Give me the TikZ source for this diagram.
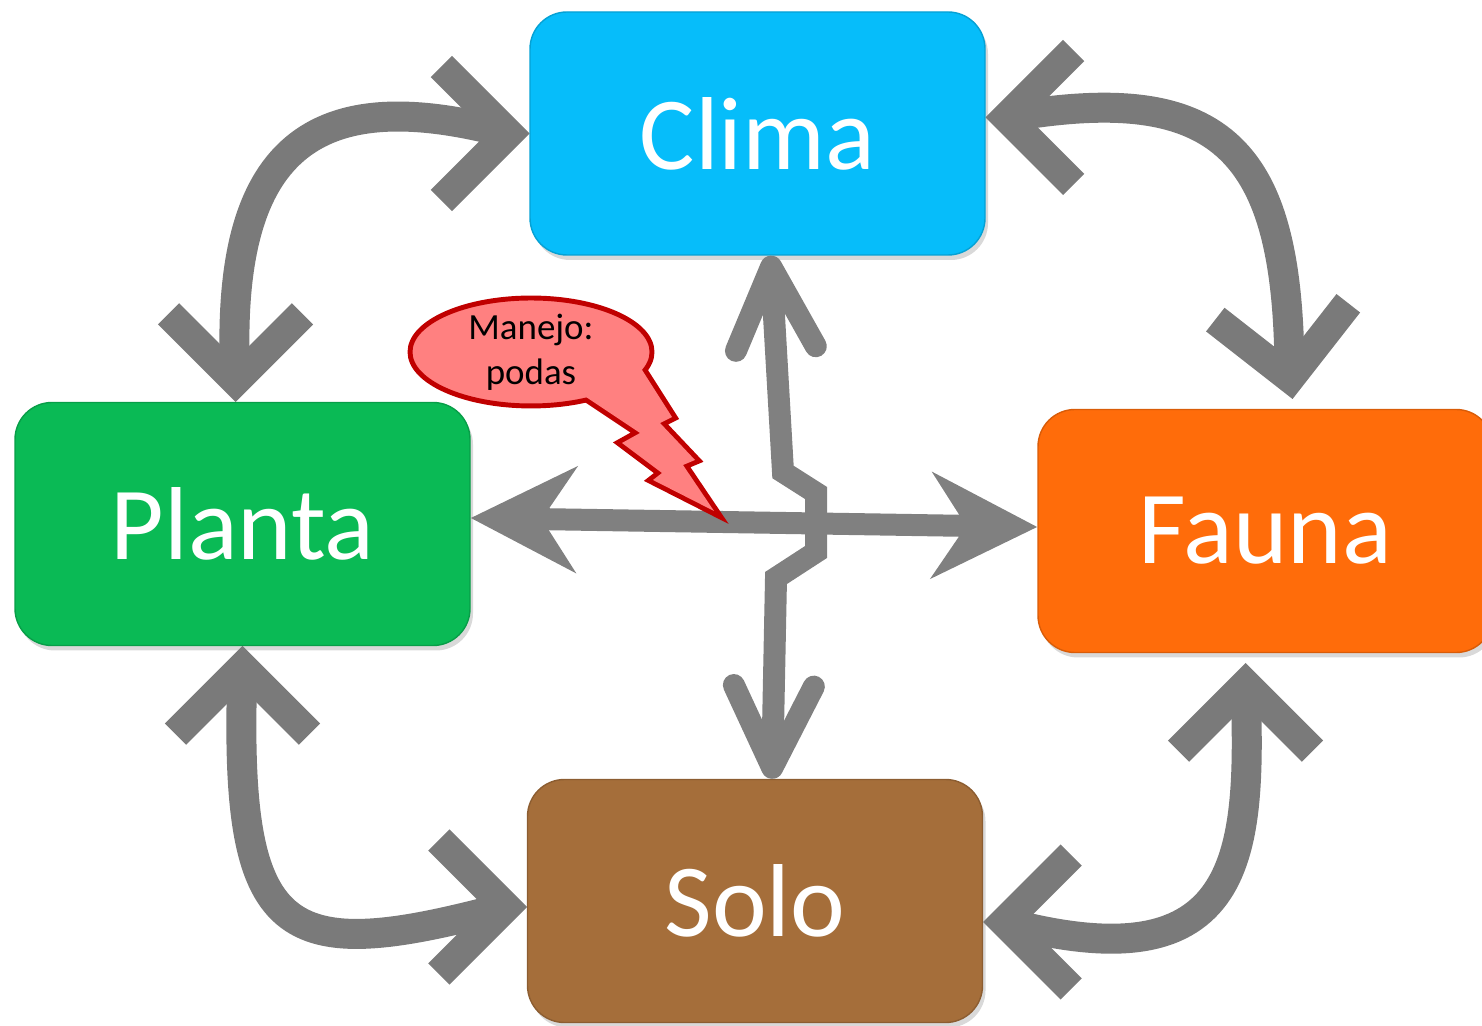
\documentclass[tikz,border=0pt]{standalone}
\usepackage{fontspec}
\setmainfont{Carlito}
\usetikzlibrary{arrows.meta, shapes.geometric, shadows}

\definecolor{climablue}{RGB}{6,189,250}
\definecolor{plantagreen}{RGB}{10,186,85}
\definecolor{faunaorange}{RGB}{255,108,10}
\definecolor{solobrown}{RGB}{165,110,58}
\definecolor{cyclegray}{RGB}{122,122,122}
\definecolor{crossgray}{RGB}{128,128,128}
\definecolor{calloutfill}{RGB}{255,128,128}
\definecolor{calloutrim}{RGB}{192,0,0}

\newcommand{\chevron}[2]{%
  \draw[cycarrow, shift={#1}, rotate=#2] (-0.88,0.67) -- (-0.21,0) -- (-0.88,-0.67);}

\begin{document}
\begin{tikzpicture}[scale=1.0,
    box/.style={rectangle, rounded corners=0.37cm, minimum width=4.55cm,
      minimum height=2.43cm, text=white, line width=0.4pt,
      font=\fontsize{29.5}{35}\selectfont,
      drop shadow={shadow xshift=0.03cm, shadow yshift=-0.05cm, opacity=0.3}},
    cycarrow/.style={draw=cyclegray, line width=0.3cm, line join=miter, line cap=butt},
    hbar/.style={draw=crossgray, line width=0.22cm,
      arrows={Stealth[length=1.05cm, width=1.05cm, inset=0.34cm]-Stealth[length=1.05cm, width=1.05cm, inset=0.34cm]}},
    vbar/.style={draw=crossgray, line width=0.22cm, line join=miter,
      arrows={Straight Barb[length=0.82cm, width=0.8cm, round]-Straight Barb[length=0.82cm, width=0.8cm, round]}},
    tailrim/.style={draw=calloutrim, line width=2.8pt, line join=miter}]

    \useasboundingbox (0,0) rectangle (14.82,10.25);

    \node[box, fill=climablue, draw=climablue!85!black] (clima) at (7.575,8.915) {Clima};
    \node[box, fill=plantagreen, draw=plantagreen!85!black] (planta) at (2.425,5.01) {Planta};
    \node[box, fill=faunaorange, draw=faunaorange!85!black] (fauna) at (12.655,4.94) {Fauna};
    \node[box, fill=solobrown, draw=solobrown!85!black] (solo) at (7.55,1.24) {Solo};

    \draw[cycarrow] ([xshift=-0.21cm]clima.west) .. controls +(165:2.0) and +(93:2.37)
      .. ([xshift=-0.07cm, yshift=0.21cm]planta.north);
    \chevron{(clima.west)}{0}
    \chevron{([xshift=-0.07cm]planta.north)}{-90}

    \draw[cycarrow] ([xshift=0.21cm, yshift=0.16cm]clima.east) .. controls +(10:2.23) and +(90:2.25)
      .. ([xshift=0.24cm, yshift=0.31cm]fauna.north);
    \chevron{([yshift=0.16cm]clima.east)}{180}
    \chevron{([xshift=0.27cm, yshift=0.1cm]fauna.north)}{-83}

    \draw[cycarrow] ([yshift=-0.21cm]planta.south) .. controls +(-92:2.75) and +(195:2.33)
      .. ([xshift=-0.21cm, yshift=-0.06cm]solo.west);
    \chevron{(planta.south)}{90}
    \chevron{([yshift=-0.06cm]solo.west)}{0}

    \draw[cycarrow] ([xshift=-0.2cm, yshift=-0.31cm]fauna.south) .. controls +(-88:1.7) and +(-15:2.5)
      .. ([xshift=0.21cm, yshift=-0.21cm]solo.east);
    \chevron{([xshift=-0.2cm, yshift=-0.1cm]fauna.south)}{90}
    \chevron{([yshift=-0.21cm]solo.east)}{180}

    \draw[hbar] ([yshift=0.06cm]planta.east) -- ([yshift=0.04cm]fauna.west);

    \coordinate (hop1) at (7.83,5.53);
    \coordinate (hop2) at (8.16,5.32);
    \coordinate (hop3) at (8.16,4.73);
    \coordinate (hop4) at (7.76,4.47);
    \draw[vbar] ([xshift=0.13cm]clima.south) -- (hop1) -- (hop2) -- (hop3) -- (hop4)
      -- ([xshift=0.17cm]solo.north);

    \coordinate (mj) at (5.31,6.73);
    \path[shift={(mj)}]
      (0.49,-0.41) coordinate (t1)  (1.09,-0.81) coordinate (t2)
      (0.91,-0.91) coordinate (t3)  (1.31,-1.21) coordinate (t4)
      (1.22,-1.28) coordinate (t5)  (1.83,-1.59) coordinate (t6)
      (1.52,-1.13) coordinate (t7)  (1.64,-1.08) coordinate (t8)
      (1.29,-0.71) coordinate (t9)  (1.41,-0.65) coordinate (t10)
      (1.06,-0.10) coordinate (t11);
    \draw[tailrim] (t1) \foreach \i in {2,...,11} {-- (t\i)} -- cycle;
    \node[ellipse, fill=calloutfill, draw=calloutrim, line width=1.4pt,
      minimum width=2.42cm, minimum height=1.05cm, inner sep=0pt, align=center,
      font=\fontsize{10.5}{12.8}\selectfont] (manejo) at (mj) {Manejo:\\podas};
    \fill[calloutfill] (t1) \foreach \i in {2,...,11} {-- (t\i)} -- cycle;
\end{tikzpicture}
\end{document}
